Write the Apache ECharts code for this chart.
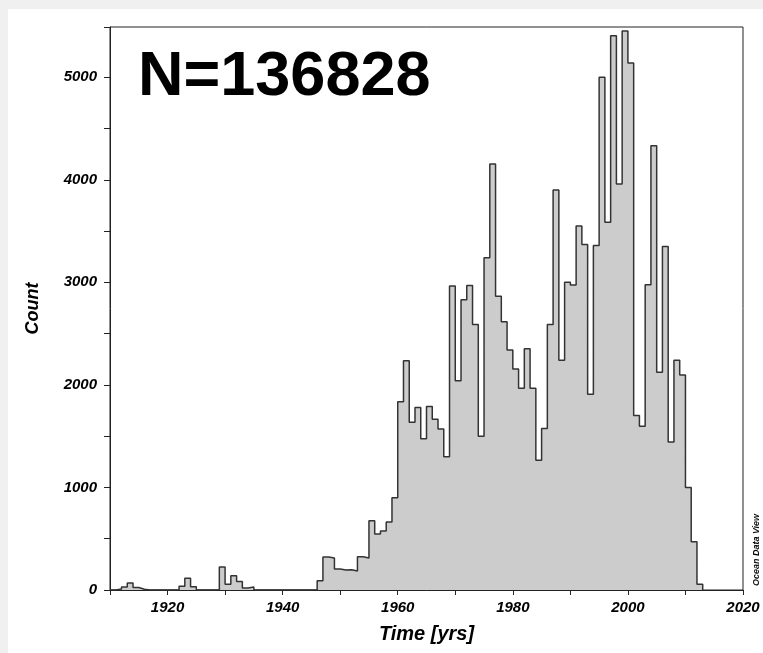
<!DOCTYPE html>
<html>
<head>
<meta charset="utf-8">
<script src="https://cdn.jsdelivr.net/npm/echarts@6/dist/echarts.min.js"></script>
<style>
html,body{margin:0;padding:0;background:#f0f0f0;}
#c{width:763px;height:653px;}
</style>
</head>
<body>
<div id="c"></div>
<script>
// Yearly bins [year, year+1)
const years = [
  1910,1911,1912,1913,1914,1915,1916,1917,1918,1919,
  1920,1921,1922,1923,1924,1925,1926,1927,1928,1929,
  1930,1931,1932,1933,1934,1935,1936,1937,1938,1939,
  1940,1941,1942,1943,1944,1945,1946,1947,1948,1949,
  1950,1951,1952,1953,1954,1955,1956,1957,1958,1959,
  1960,1961,1962,1963,1964,1965,1966,1967,1968,1969,
  1970,1971,1972,1973,1974,1975,1976,1977,1978,1979,
  1980,1981,1982,1983,1984,1985,1986,1987,1988,1989,
  1990,1991,1992,1993,1994,1995,1996,1997,1998,1999,
  2000,2001,2002,2003,2004,2005,2006,2007,2008,2009,
  2010,2011,2012
];
const counts = [
  0,10,30,68,25,8,0,0,0,0,
  0,0,36,114,32,0,0,0,0,224,
  55,140,84,19,29,0,0,0,0,0,
  0,0,0,0,0,0,91,321,312,205,
  195,198,185,325,312,675,545,575,662,899,
  1835,2235,1635,1780,1475,1790,1665,1570,1300,2965,
  2040,2830,2970,2590,1500,3240,4155,2865,2615,2340,
  2155,1968,2352,1968,1266,1575,2590,3900,2240,3000,
  2975,3550,3370,1908,3360,5000,3585,5405,3960,5450,
  5140,1702,1597,2976,4333,2123,3350,1444,2240,2097,
  1000,470,55
];
const xTickLabels = ['1920','1940','1960','1980','2000','2020'];
const yTickLabels = ['0','1000','2000','3000','4000','5000'];
const totalLabel = 'N=136828';
const xName = 'Time [yrs]';
const yName = 'Count';

const stepData = years.map((y, i) => [y, counts[i]]);
stepData.push([years[years.length - 1] + 1, 0]);

const chart = echarts.init(document.getElementById('c'), null, {renderer: 'canvas'});
const font = '"Liberation Sans", Arial, sans-serif';

chart.setOption({
  animation: false,
  backgroundColor: 'transparent',
  grid: {
    left: 110, right: 20, top: 27, bottom: 63,
    show: true, borderColor: '#222', borderWidth: 1, backgroundColor: 'transparent'
  },
  xAxis: {
    type: 'value', min: 1910, max: 2020, interval: 10,
    axisLine: {show: true, lineStyle: {color: '#222', width: 1}},
    axisTick: {show: true, inside: false, length: 5, lineStyle: {color: '#222'}},
    splitLine: {show: false},
    axisLabel: {
      margin: 10, color: '#000', fontFamily: font, fontSize: 15,
      fontWeight: 'bold', fontStyle: 'italic',
      formatter: v => xTickLabels.indexOf(String(v)) >= 0 ? String(v) : ''
    },
    name: xName, nameLocation: 'middle', nameGap: 34,
    nameTextStyle: {color: '#000', fontFamily: font, fontSize: 20, fontWeight: 'bold', fontStyle: 'italic'}
  },
  yAxis: {
    type: 'value', min: 0, max: 5490, interval: 500,
    axisLine: {show: true, lineStyle: {color: '#222', width: 1}},
    axisTick: {show: true, inside: false, length: 6, lineStyle: {color: '#222'}},
    splitLine: {show: false},
    axisLabel: {
      margin: 13, color: '#000', fontFamily: font, fontSize: 15,
      fontWeight: 'bold', fontStyle: 'italic',
      formatter: v => yTickLabels.indexOf(String(v)) >= 0 ? String(v) : ''
    },
    name: yName, nameLocation: 'middle', nameGap: 68, nameRotate: 90,
    nameTextStyle: {color: '#000', fontFamily: font, fontSize: 18, fontWeight: 'bold', fontStyle: 'italic'}
  },
  series: [{
    type: 'line',
    step: 'end',
    data: stepData,
    symbol: 'none',
    lineStyle: {color: '#333', width: 1.5},
    areaStyle: {color: '#cccccc', opacity: 1}
  }],
  graphic: [
    {
      type: 'rect', z: -10, silent: true,
      shape: {x: 8, y: 9, width: 755, height: 644},
      style: {fill: '#ffffff'}
    },
    {
      type: 'text', z: 10,
      style: {
        text: totalLabel, x: 138, y: 78, textVerticalAlign: 'middle',
        font: 'bold 63px "Liberation Sans", Arial, sans-serif', fill: '#000'
      }
    },
    {
      type: 'text', z: 10, x: 757, y: 550, rotation: Math.PI / 2,
      style: {
        text: 'Ocean {b|Data} View', align: 'center', verticalAlign: 'middle',
        font: 'italic bold 9px "Liberation Sans", Arial, sans-serif', fill: '#111',
        rich: {b: {fontWeight: 'bold', fontStyle: 'italic', fontSize: 9, fontFamily: font, fill: '#000'}}
      }
    }
  ]
});
</script>
</body>
</html>
